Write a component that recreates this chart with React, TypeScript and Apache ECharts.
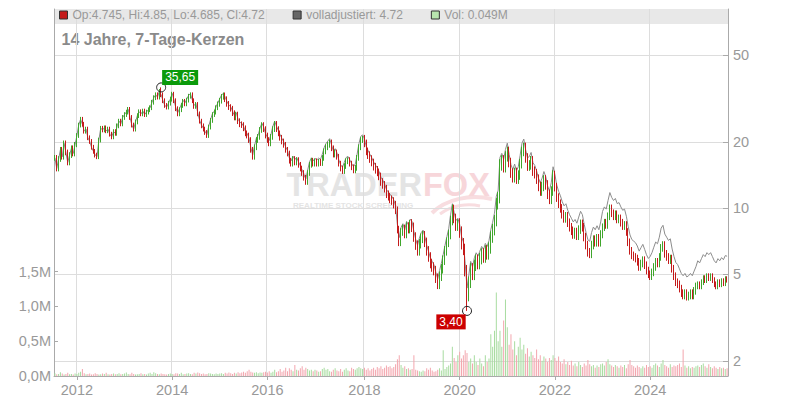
import React, { useEffect, useRef } from "react";
import * as echarts from "echarts";

// ---- time base (bi-weekly periods) ----
const START_UTC = Date.UTC(2011, 6, 22);
const STEP_DAYS = 14;

// ---- closing prices per period, grouped by year ----
const closes2011 = [17.0, 15.2, 16.8, 18.5, 17.2, 19.8, 18.0, 16.2, 17.5, 18.8, 17.8, 19.5];
const closes2012 = [21.5, 24.0, 25.5, 24.2, 22.5, 23.0, 21.0, 20.2, 19.0, 18.2, 17.5, 17.2, 20.5, 23.2, 22.8, 23.3, 22.6, 23.0, 21.8, 21.2, 22.4, 22.0, 23.8, 25.0, 24.3, 26.0];
const closes2013 = [26.8, 27.5, 28.3, 26.0, 24.0, 23.0, 24.8, 26.5, 27.6, 27.0, 27.8, 26.8, 27.5, 28.2, 28.8, 30.5, 32.0, 33.0, 32.2, 34.2, 33.0, 31.0, 29.5, 29.0, 30.2, 31.5];
const closes2014 = [33.2, 31.0, 28.5, 27.0, 28.2, 29.5, 30.8, 30.0, 31.2, 32.5, 33.0, 31.0, 29.2, 29.8, 27.0, 25.0, 23.8, 23.0, 22.2, 21.5, 23.5, 25.2, 26.8, 27.5, 28.8, 30.0];
const closes2015 = [31.0, 32.3, 32.8, 31.5, 30.0, 29.0, 28.5, 27.2, 26.0, 26.8, 25.0, 24.2, 24.0, 23.2, 22.0, 21.5, 20.5, 18.5, 17.2, 19.0, 20.5, 21.2, 22.8, 24.0, 23.0, 21.5];
const closes2016 = [20.5, 19.8, 21.2, 23.0, 24.3, 23.0, 22.0, 21.0, 20.2, 19.5, 18.5, 17.8, 16.5, 16.0, 16.8, 16.2, 16.6, 15.8, 15.2, 14.5, 13.8, 13.2, 14.5, 15.8, 16.5, 16.0, 16.4];
const closes2017 = [16.0, 16.3, 16.1, 17.0, 18.2, 19.0, 19.5, 20.0, 18.8, 17.6, 18.0, 17.2, 16.0, 15.2, 14.8, 15.6, 16.4, 16.6, 16.0, 15.4, 14.9, 15.3, 17.0, 19.0, 20.5, 20.8];
const closes2018 = [19.8, 18.2, 17.5, 16.8, 16.2, 15.5, 15.0, 14.6, 14.0, 13.2, 12.8, 12.3, 11.6, 11.3, 11.0, 10.8, 10.4, 9.8, 8.0, 7.0, 7.8, 8.1, 7.6, 8.3, 8.0, 8.5];
const closes2019 = [8.2, 7.4, 6.8, 6.4, 6.9, 7.3, 7.5, 7.0, 6.4, 6.0, 5.6, 5.4, 5.2, 4.8, 4.5, 4.9, 5.3, 5.8, 6.4, 7.0, 7.6, 8.8, 9.9, 9.0, 8.3, 8.5];
const closes2020 = [7.8, 6.9, 6.5, 5.2, 4.0, 4.6, 5.3, 5.0, 5.5, 5.8, 5.6, 5.9, 6.2, 6.0, 6.4, 6.2, 6.6, 7.4, 8.0, 8.8, 10.5, 11.2, 15.8, 16.5, 15.5, 17.2];
const closes2021 = [18.2, 16.2, 14.5, 13.8, 14.6, 13.6, 14.2, 16.0, 18.2, 19.0, 17.0, 15.6, 15.8, 16.5, 14.8, 14.4, 13.6, 12.6, 12.0, 12.6, 13.5, 12.8, 11.6, 11.0, 12.0, 14.2];
const closes2022 = [12.5, 11.2, 10.5, 10.0, 9.4, 9.0, 9.2, 8.6, 8.2, 7.9, 7.6, 7.8, 7.5, 8.0, 8.5, 8.2, 7.4, 6.8, 6.3, 6.2, 6.8, 7.2, 7.0, 7.3, 7.0, 7.6];
const closes2023 = [8.2, 8.6, 8.4, 9.2, 10.0, 9.5, 9.2, 9.4, 8.9, 9.0, 8.6, 8.3, 8.4, 7.8, 7.0, 6.4, 6.1, 6.0, 5.9, 5.7, 5.4, 5.6, 5.8, 5.5, 5.2, 5.0];
const closes2024 = [4.9, 5.1, 5.4, 5.7, 5.6, 6.0, 6.6, 6.8, 6.2, 6.0, 5.8, 5.9, 5.3, 4.9, 4.6, 4.5, 4.3, 4.1, 4.0, 4.1, 3.95, 4.0, 4.1, 4.0, 4.2, 4.4];
const closes2025 = [4.5, 4.4, 4.6, 4.8, 4.7, 4.9, 4.8, 4.9, 4.7, 4.5, 4.4, 4.6, 4.5, 4.65, 4.55, 4.75, 4.72];

// ---- volume per period (thousands of shares) ----
const volK2011 = [40, 25, 30, 55, 35, 20, 30, 45, 25, 30, 20, 35];
const volK2012 = [30, 45, 60, 100, 40, 25, 30, 35, 20, 25, 40, 30, 20, 25, 35, 30, 45, 25, 20, 30, 35, 25, 30, 40, 25, 30];
const volK2013 = [35, 50, 30, 25, 45, 30, 20, 25, 30, 40, 25, 30, 20, 35, 45, 30, 55, 40, 30, 25, 35, 30, 25, 20, 30, 35];
const volK2014 = [30, 25, 40, 35, 30, 45, 25, 30, 35, 40, 30, 25, 45, 35, 50, 40, 30, 35, 25, 30, 40, 35, 30, 25, 35, 30];
const volK2015 = [35, 40, 30, 45, 35, 50, 40, 30, 45, 35, 55, 40, 50, 60, 45, 70, 90, 60, 50, 45, 55, 40, 50, 45, 55, 60];
const volK2016 = [50, 70, 45, 60, 90, 55, 70, 100, 60, 80, 120, 70, 110, 90, 70, 160, 90, 80, 110, 140, 90, 120, 100, 80, 90, 70, 90];
const volK2017 = [80, 60, 70, 100, 120, 90, 100, 70, 60, 90, 110, 80, 70, 100, 60, 90, 110, 80, 70, 120, 100, 90, 110, 130, 110, 100];
const volK2018 = [120, 90, 110, 80, 100, 120, 90, 130, 110, 140, 100, 120, 150, 130, 140, 110, 130, 170, 240, 300, 160, 120, 140, 100, 110, 90];
const volK2019 = [100, 300, 90, 80, 70, 60, 80, 70, 110, 90, 120, 80, 60, 70, 90, 110, 80, 370, 100, 130, 150, 180, 420, 260, 200, 300];
const volK2020 = [350, 250, 300, 370, 330, 200, 250, 180, 300, 200, 160, 250, 180, 140, 300, 200, 250, 600, 420, 650, 1200, 500, 650, 420, 800, 1100];
const volK2021 = [700, 450, 600, 380, 500, 300, 420, 550, 380, 450, 320, 400, 280, 350, 300, 260, 380, 240, 300, 220, 280, 250, 200, 260, 230, 300];
const volK2022 = [260, 220, 280, 200, 180, 240, 170, 200, 160, 220, 150, 180, 140, 200, 160, 130, 180, 150, 230, 170, 140, 160, 120, 150, 130, 170];
const volK2023 = [180, 150, 200, 240, 170, 150, 130, 160, 140, 120, 150, 130, 160, 110, 170, 230, 160, 140, 120, 150, 130, 110, 140, 120, 160, 130];
const volK2024 = [140, 120, 160, 180, 150, 130, 180, 230, 160, 140, 120, 170, 130, 150, 140, 160, 180, 130, 380, 150, 120, 140, 110, 130, 120, 140];
const volK2025 = [150, 130, 160, 180, 140, 120, 170, 130, 110, 140, 120, 100, 130, 110, 120, 100, 110];

// ---- per year: dividend adjustment factor (fully adjusted line) and typical wick reach beyond open/close ----
const statYears = [2011, 2012, 2013, 2014, 2015, 2016, 2017, 2018, 2019, 2020, 2021, 2022, 2023, 2024, 2025];
const adjFactors = [1.0, 1.0, 1.0, 1.01, 1.02, 1.03, 1.04, 1.05, 1.06, 1.08, 1.09, 1.14, 1.18, 1.23, 1.28];
const wickReach = [0.03, 0.025, 0.025, 0.025, 0.03, 0.03, 0.03, 0.04, 0.05, 0.06, 0.05, 0.045, 0.04, 0.04, 0.03];

// ---- marked extremes ----
const extremes = [
  { index: 58, kind: "high", value: 35.65, label: "35,65", color: "#0b9a0b", offset: [19, -10] },
  { index: 225, kind: "low", value: 3.4, label: "3,40", color: "#cc0000", offset: [-16, 11] },
];

// ---- axes ----
const priceTicks = [2, 5, 10, 20, 50];
const priceRange = [1.7145, 81.3];
const volumeTicksM = [0, 0.5, 1.0, 1.5];
const volumeMaxM = 5.28;

const titleText = "14 Jahre, 7-Tage-Kerzen";
const legendCandle = "Op:4.745, Hi:4.85, Lo:4.685, Cl:4.72";
const legendAdjusted = "volladjustiert: 4.72";
const legendVolume = "Vol: 0.049M";

const closes = [
  ...closes2011, ...closes2012, ...closes2013, ...closes2014, ...closes2015,
  ...closes2016, ...closes2017, ...closes2018, ...closes2019, ...closes2020,
  ...closes2021, ...closes2022, ...closes2023, ...closes2024, ...closes2025,
];
const volumesK = [
  ...volK2011, ...volK2012, ...volK2013, ...volK2014, ...volK2015,
  ...volK2016, ...volK2017, ...volK2018, ...volK2019, ...volK2020,
  ...volK2021, ...volK2022, ...volK2023, ...volK2024, ...volK2025,
];

const FONT = "'Liberation Sans', Arial, sans-serif";
const UP = "#3fa52c";
const DOWN = "#c41b1b";
const VOL_UP = "#a8dca0";
const VOL_DOWN = "#f3a6ae";
const AXIS_TXT = "#999999";
const GRID = "#dddddd";
const AXIS_LINE = "#aaaaaa";

function buildOption() {
  const L = Math.log10;
  const dates = closes.map((_, i) =>
    new Date(START_UTC + i * STEP_DAYS * 86400000).toISOString().slice(0, 10)
  );
  const yearOf = (i: number) => Number(dates[i].slice(0, 4));
  const evenYearStart = new Set<number>();
  for (let i = 1; i < dates.length; i++) {
    if (yearOf(i) !== yearOf(i - 1) && yearOf(i) % 2 === 0) evenYearStart.add(i);
  }
  const isMark = (i: number) => evenYearStart.has(i);

  const candles = closes.map((c, i) => {
    const o = i > 0 ? closes[i - 1] : c;
    const k = statYears.indexOf(yearOf(i));
    let lo = Math.min(o, c) * (1 - wickReach[k]);
    let hi = Math.max(o, c) * (1 + wickReach[k]);
    for (const e of extremes) {
      if (e.index === i && e.kind === "high") hi = e.value;
      if (e.index === i && e.kind === "low") lo = e.value;
    }
    return [L(o), L(c), L(lo), L(hi)];
  });

  const adjusted = closes.map((c, i) => {
    const k = statYears.indexOf(yearOf(i));
    return L(c * adjFactors[k]);
  });

  const volumes = volumesK.map((v, i) => {
    const up = i === 0 ? true : closes[i] >= closes[i - 1];
    return { value: v * 1000, itemStyle: { color: up ? VOL_UP : VOL_DOWN } };
  });

  return {
    animation: false,
    backgroundColor: "#ffffff",
    textStyle: { fontFamily: FONT },
    grid: { left: 54, right: 72, top: 9, bottom: 24, outerBoundsMode: "none" },
    legend: {
      left: 59,
      top: 9,
      padding: 0,
      itemGap: 28,
      itemWidth: 8,
      itemHeight: 8,
      icon: "rect",
      selectedMode: false,
      textStyle: { color: AXIS_TXT, fontSize: 12, fontFamily: FONT },
      data: [
        { name: "Kurs", itemStyle: { color: DOWN, borderColor: "#333", borderWidth: 1 } },
        { name: "volladjustiert", itemStyle: { color: "#666666", borderColor: "#333", borderWidth: 1 } },
        { name: "Vol", itemStyle: { color: "#b8e4ae", borderColor: "#333", borderWidth: 1 } },
      ],
      formatter: (name: string) =>
        name === "Kurs" ? legendCandle : name === "volladjustiert" ? legendAdjusted : legendVolume,
    },
    graphic: [
      {
        type: "rect",
        z: -1,
        silent: true,
        shape: { x: 54, y: 9, width: 674, height: 15 },
        style: { fill: "#e8e8e8" },
      },
      {
        type: "bezierCurve",
        z: -1,
        silent: true,
        shape: { x1: 432, y1: 213, cpx1: 446, cpy1: 199, cpx2: 470, cpy2: 194, x2: 492, y2: 199 },
        style: { stroke: "#f8dde0", lineWidth: 4, fill: null },
      },
      {
        type: "bezierCurve",
        z: -1,
        silent: true,
        shape: { x1: 440, y1: 214, cpx1: 452, cpy1: 205, cpx2: 468, cpy2: 203, x2: 480, y2: 206 },
        style: { stroke: "#f8dde0", lineWidth: 3, fill: null },
      },
      {
        type: "text",
        z: -1,
        silent: true,
        x: 286.5,
        y: 184.5,
        style: {
          text: "TRADER",
          fill: "#e4e4e4",
          fontSize: 32.5,
          lineHeight: 24,
          fontWeight: "bold",
          fontFamily: FONT,
          textVerticalAlign: "middle",
        },
      },
      {
        type: "text",
        z: -1,
        silent: true,
        x: 423,
        y: 184.5,
        style: {
          text: "FOX",
          fill: "#f7d6da",
          fontSize: 32.5,
          lineHeight: 24,
          fontWeight: "bold",
          fontFamily: FONT,
          textVerticalAlign: "middle",
        },
      },
      {
        type: "text",
        z: -1,
        silent: true,
        x: 293,
        y: 205.5,
        style: {
          text: "REALTIME STOCK SCREENING",
          fill: "#e4e4e4",
          fontSize: 8,
          lineHeight: 8,
          fontWeight: "bold",
          fontFamily: FONT,
          textVerticalAlign: "middle",
        },
      },
      {
        type: "text",
        silent: true,
        x: 61.5,
        y: 39.3,
        style: {
          text: titleText,
          fill: "#8a8a8a",
          fontSize: 16,
          fontWeight: "bold",
          fontFamily: FONT,
          textVerticalAlign: "middle",
        },
      },
    ],
    xAxis: {
      type: "category",
      data: dates,
      boundaryGap: true,
      axisLine: { show: true, lineStyle: { color: AXIS_LINE } },
      axisTick: {
        show: true,
        alignWithLabel: true,
        interval: (i: number) => isMark(i),
        length: 4,
        lineStyle: { color: AXIS_LINE },
      },
      axisLabel: {
        interval: (i: number) => isMark(i),
        formatter: (v: string) => v.slice(0, 4),
        color: AXIS_TXT,
        fontSize: 14.5,
        margin: 6,
        fontFamily: FONT,
      },
      splitLine: {
        show: true,
        interval: (i: number) => isMark(i),
        lineStyle: { color: GRID, width: 1 },
      },
    },
    yAxis: [
      {
        type: "value",
        position: "right",
        min: L(priceRange[0]),
        max: L(priceRange[1]),
        axisLine: { show: true, lineStyle: { color: AXIS_LINE } },
        axisTick: {
          show: true,
          inside: true,
          length: 5,
          customValues: priceTicks.map(L),
          lineStyle: { color: AXIS_LINE },
        },
        axisLabel: {
          customValues: priceTicks.map(L),
          formatter: (v: number) => String(Math.round(Math.pow(10, v))),
          color: AXIS_TXT,
          fontSize: 14.5,
          margin: 5,
          fontFamily: FONT,
        },
        splitLine: { show: true, lineStyle: { color: GRID, width: 1 } },
      },
      {
        type: "value",
        position: "left",
        min: 0,
        max: volumeMaxM * 1e6,
        axisLine: { show: true, lineStyle: { color: AXIS_LINE } },
        axisTick: {
          show: true,
          inside: true,
          length: 4,
          customValues: volumeTicksM.map((m) => m * 1e6),
          lineStyle: { color: AXIS_LINE },
        },
        axisLabel: {
          customValues: volumeTicksM.map((m) => m * 1e6),
          formatter: (v: number) => (v / 1e6).toFixed(1).replace(".", ",") + "M",
          color: AXIS_TXT,
          fontSize: 14.5,
          margin: 3,
          fontFamily: FONT,
        },
        splitLine: { show: false },
      },
    ],
    series: [
      {
        name: "Vol",
        type: "bar",
        yAxisIndex: 1,
        data: volumes,
        barWidth: 1,
        z: 1,
      },
      {
        name: "volladjustiert",
        type: "line",
        yAxisIndex: 0,
        data: adjusted,
        symbol: "none",
        z: 2,
        lineStyle: { color: "#8c8c8c", width: 1 },
        itemStyle: { color: "#666666" },
      },
      {
        name: "Kurs",
        type: "candlestick",
        yAxisIndex: 0,
        data: candles,
        barWidth: 1.2,
        z: 3,
        itemStyle: {
          color: UP,
          color0: DOWN,
          borderColor: UP,
          borderColor0: DOWN,
          borderWidth: 1,
        },
        markPoint: {
          symbol: "circle",
          symbolSize: 9,
          silent: true,
          itemStyle: { color: "rgba(0,0,0,0)", borderColor: "#222", borderWidth: 1 },
          data: extremes.map((e) => ({
            coord: [dates[e.index], L(e.value)],
            label: {
              show: true,
              position: "inside",
              offset: e.offset,
              formatter: e.label,
              color: "#ffffff",
              backgroundColor: e.color,
              padding: [2, 3, 1, 3],
              fontSize: 12,
              lineHeight: 12,
              fontFamily: FONT,
            },
          })),
        },
      },
    ],
  };
}

export default function App() {
  const ref = useRef<HTMLDivElement>(null);
  useEffect(() => {
    if (!ref.current) return;
    const chart = echarts.init(ref.current, null, { renderer: "svg" });
    chart.setOption(buildOption() as any);
    return () => chart.dispose();
  }, []);
  return (
    <div
      ref={ref}
      style={{ position: "absolute", left: 0, top: 0, width: 800, height: 400 }}
    />
  );
}
